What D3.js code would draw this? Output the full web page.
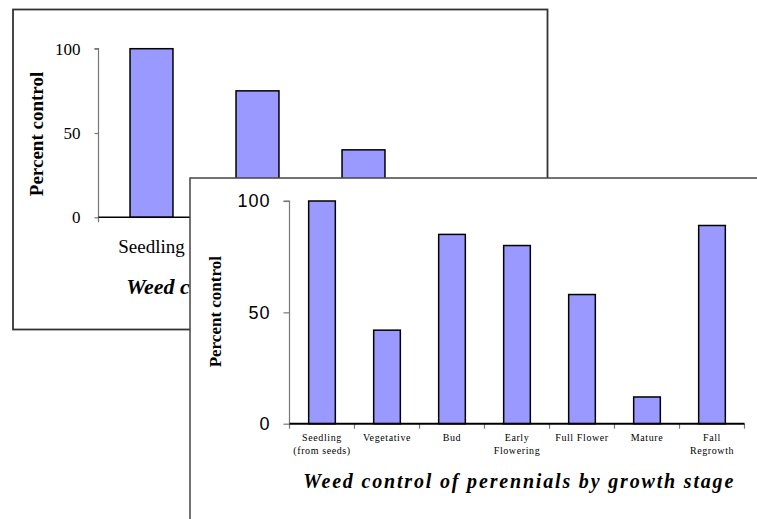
<!DOCTYPE html>
<html><head><meta charset="utf-8">
<script src="https://cdn.jsdelivr.net/npm/d3@7"></script>
<style>
html,body{margin:0;padding:0;background:#fff;overflow:hidden}
svg{display:block}
</style></head>
<body>
<svg id="chart" width="757" height="519"></svg>
<script>
// Back chart (annuals)
const backCategories = ["Seedling", "Vegetative", "Flowering", "Mature"];
const backValues = [100, 75, 40, 10];
const backTitle = "Weed control of annuals by growth stage";
// Front chart (perennials)
const frontCategories = [["Seedling", "(from seeds)"], ["Vegetative"], ["Bud"], ["Early", "Flowering"], ["Full Flower"], ["Mature"], ["Fall", "Regrowth"]];
const frontValues = [100, 42, 85, 80, 58, 12, 89];
const frontTitle = "Weed control of perennials by growth stage";
const yTicks = [0, 50, 100];
const yLabel = "Percent control";

const svg = d3.select("#chart");
const serif = "'Liberation Serif','Times New Roman',serif";
const sans = "'Liberation Sans',Arial,sans-serif";
const barFill = "#9999ff";

function drawChart(g, cfg) {
  const x = d3.scaleBand().domain(d3.range(cfg.values.length))
    .range([cfg.x0, cfg.x1]).paddingInner(cfg.pad).paddingOuter(cfg.pad / 2);
  const y = d3.scaleLinear().domain([0, 100]).range([cfg.yb, cfg.yt]);

  // bars
  g.selectAll("rect.bar").data(cfg.values).enter().append("rect")
    .attr("class", "bar")
    .attr("x", (d, i) => x(i)).attr("width", x.bandwidth())
    .attr("y", d => y(d)).attr("height", d => y(0) - y(d))
    .attr("fill", barFill).attr("stroke", "#000").attr("stroke-width", 1.5);

  // y axis
  const ya = g.append("g").attr("transform", `translate(${cfg.x0},0)`)
    .call(d3.axisLeft(y).tickValues(yTicks).tickSize(cfg.tickLen).tickPadding(cfg.tickPad).tickFormat(d3.format("d")));
  ya.select(".domain").attr("stroke", "#777").attr("stroke-width", 1.2).attr("d", `M-${cfg.tickLen},${y(100)}H0V${y(0)}`);
  ya.selectAll(".tick line").attr("stroke", "#777").attr("stroke-width", 1.2);
  ya.selectAll(".tick text").attr("font-family", cfg.tickFont).attr("font-size", cfg.tickSize)
    .attr("letter-spacing", cfg.tickLS).attr("fill", "#000");

  // x axis line and boundary ticks
  const bounds = d3.range(cfg.values.length + 1).map(i => cfg.x0 + i * x.step());
  g.selectAll("line.xt").data(bounds).enter().append("line")
    .attr("x1", d => d).attr("x2", d => d).attr("y1", y(0)).attr("y2", y(0) + 5)
    .attr("stroke", "#777").attr("stroke-width", 1.2);
  g.append("line").attr("x1", cfg.x0).attr("x2", cfg.x1).attr("y1", y(0)).attr("y2", y(0))
    .attr("stroke", "#000").attr("stroke-width", cfg.xw);

  // category labels
  const cl = g.selectAll("text.cat").data(cfg.cats).enter().append("text")
    .attr("class", "cat")
    .attr("x", (d, i) => x(i) + x.bandwidth() / 2).attr("y", cfg.catY)
    .attr("text-anchor", "middle").attr("font-family", serif)
    .attr("font-size", cfg.catSize).attr("letter-spacing", cfg.catLS).attr("fill", "#000");
  cl.each(function (d) {
    const lines = Array.isArray(d) ? d : [d];
    const t = d3.select(this);
    lines.forEach((s, k) => t.append("tspan").attr("x", t.attr("x")).attr("dy", k === 0 ? 0 : cfg.catLH).text(s));
  });

  // y label
  g.append("text").attr("transform", `translate(${cfg.ylx},${cfg.yly}) rotate(-90)`)
    .attr("text-anchor", "middle").attr("dominant-baseline", "central")
    .attr("font-family", serif).attr("font-weight", "bold").attr("font-size", cfg.ylSize)
    .attr("fill", "#000").text(yLabel);

  // title
  const tt = g.append("text").attr("x", cfg.titleX).attr("y", cfg.titleY)
    .attr("text-anchor", "middle").attr("font-family", serif).attr("font-weight", "bold")
    .attr("font-style", "italic").attr("font-size", cfg.titleSize).attr("fill", "#000").text(cfg.title);
  if (cfg.titleLen) tt.attr("textLength", cfg.titleLen).attr("lengthAdjust", "spacing");
}

// Back panel
const back = svg.append("g");
back.append("rect").attr("x", 13).attr("y", 9.5).attr("width", 534.5).attr("height", 320)
  .attr("fill", "#fff").attr("stroke", "#333").attr("stroke-width", 1.8);
drawChart(back, {
  values: backValues, cats: backCategories, title: backTitle,
  x0: 98.5, x1: 522.5, pad: 0.595, yb: 217.3, yt: 48.7,
  tickLen: 4, tickPad: 14, tickFont: serif, tickSize: 17, tickLS: 0,
  xw: 1.5, catY: 253, catSize: 19, catLS: 0, catLH: 20,
  ylx: 36, yly: 134, ylSize: 19,
  titleX: 310.5, titleY: 294, titleSize: 22, titleLen: null
});

// Front panel
const front = svg.append("g");
front.append("rect").attr("x", 190).attr("y", 178).attr("width", 600).attr("height", 400)
  .attr("fill", "#fff").attr("stroke", "#444").attr("stroke-width", 1.5);
drawChart(front, {
  values: frontValues, cats: frontCategories, title: frontTitle,
  x0: 289.5, x1: 744.5, pad: 0.59, yb: 423.7, yt: 201,
  tickLen: 6, tickPad: 13, tickFont: sans, tickSize: 18, tickLS: 1,
  xw: 2, catY: 441, catSize: 10, catLS: 0.6, catLH: 13,
  ylx: 215, yly: 311.7, ylSize: 17,
  titleX: 518.3, titleY: 488, titleSize: 20, titleLen: 430
});
</script>
</body></html>
